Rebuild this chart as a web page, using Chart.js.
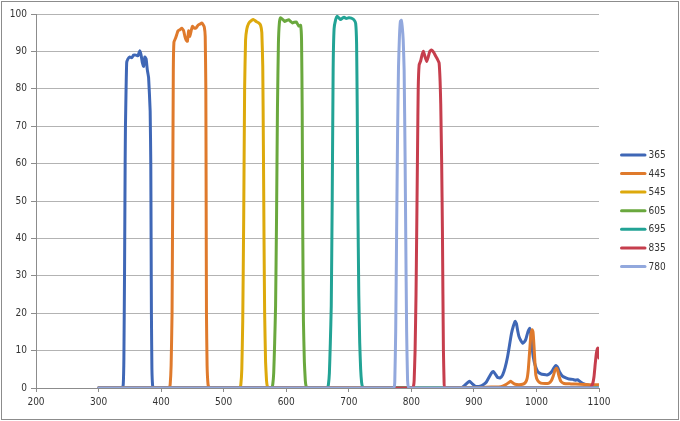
<!DOCTYPE html>
<html>
<head>
<meta charset="utf-8">
<script src="https://cdn.jsdelivr.net/npm/chart.js@4.4.1/dist/chart.umd.min.js"></script>
<style>
  html, body { margin: 0; padding: 0; background: #fff; }
  #frame {
    position: absolute; left: 1px; top: 1px;
    width: 678px; height: 419px;
    box-sizing: border-box; border: 1px solid #8c8c8c; background: #fff;
  }
  #box { position: relative; width: 676px; height: 417px; }
</style>
</head>
<body>
<div id="frame"><div id="box"><canvas id="filters"></canvas></div></div>
<script>
const seriesLabels = ["365", "445", "545", "605", "695", "835", "780"];
const seriesColors = ["#3F67B6", "#DF7A2C", "#DDA90C", "#6AA83E", "#22A395", "#C63E4D", "#92A8DD"];
const xTicks = [200, 300, 400, 500, 600, 700, 800, 900, 1000, 1100];
const yTicks = [0, 10, 20, 30, 40, 50, 60, 70, 80, 90, 100];

const f365 = [
    {x: 300, y: 0}, {x: 338, y: 0}, {x: 339.5, y: 1}, {x: 340.5, y: 8}, {x: 341.5, y: 30},
    {x: 342.5, y: 60}, {x: 343, y: 70}, {x: 344, y: 80}, {x: 345, y: 87}, {x: 347, y: 88},
    {x: 350, y: 88.5}, {x: 353, y: 88.3}, {x: 356, y: 89}, {x: 360, y: 89}, {x: 363, y: 88.8},
    {x: 366, y: 90.2}, {x: 368, y: 89}, {x: 370, y: 87}, {x: 372, y: 86}, {x: 374, y: 88.5},
    {x: 376, y: 88}, {x: 378, y: 85}, {x: 380, y: 83}, {x: 382.5, y: 74}, {x: 383.5, y: 60},
    {x: 384, y: 40}, {x: 384.5, y: 20}, {x: 385.3, y: 5}, {x: 386.5, y: 0.5}, {x: 388, y: 0},
    {x: 880, y: 0}, {x: 884, y: 0.5}, {x: 889, y: 1.3}, {x: 893, y: 1.8}, {x: 897, y: 1.2},
    {x: 902, y: 0.5}, {x: 910, y: 0.5}, {x: 916, y: 1}, {x: 920, y: 1.6}, {x: 924, y: 2.8},
    {x: 928, y: 4}, {x: 931, y: 4.4}, {x: 934, y: 3.8}, {x: 938, y: 2.8}, {x: 942, y: 2.7},
    {x: 946, y: 3.5}, {x: 950, y: 5.5}, {x: 954, y: 8.5}, {x: 957, y: 11.5}, {x: 960, y: 14.5},
    {x: 963, y: 16.5}, {x: 966, y: 17.8}, {x: 968, y: 17.2}, {x: 970, y: 15.3}, {x: 972, y: 13.8},
    {x: 975, y: 12.7}, {x: 978, y: 12}, {x: 980, y: 12.2}, {x: 983, y: 13}, {x: 986, y: 14.8},
    {x: 989, y: 16}, {x: 991, y: 14.5}, {x: 993, y: 11}, {x: 995, y: 8.2}, {x: 998, y: 6},
    {x: 1002, y: 4.4}, {x: 1007, y: 3.8}, {x: 1012, y: 3.6}, {x: 1017, y: 3.5}, {x: 1021, y: 3.8},
    {x: 1025, y: 4.5}, {x: 1028, y: 5.4}, {x: 1031, y: 6}, {x: 1034, y: 5.5}, {x: 1037, y: 4.3},
    {x: 1042, y: 3.1}, {x: 1047, y: 2.7}, {x: 1052, y: 2.4}, {x: 1058, y: 2.3}, {x: 1062, y: 2.1},
    {x: 1066, y: 2.2}, {x: 1070, y: 1.7}, {x: 1076, y: 1.1}, {x: 1082, y: 0.8}, {x: 1088, y: 0.6},
    {x: 1094, y: 0.5}, {x: 1100, y: 0.5},
];
const f445 = [
    {x: 300, y: 0}, {x: 413, y: 0}, {x: 414.5, y: 1}, {x: 416, y: 6}, {x: 417.5, y: 20},
    {x: 418.5, y: 50}, {x: 419.5, y: 85}, {x: 420.5, y: 92.5}, {x: 423, y: 93.5}, {x: 425, y: 94.5},
    {x: 427, y: 95.5}, {x: 430, y: 95.8}, {x: 433, y: 96.2}, {x: 436, y: 95.5}, {x: 438, y: 94},
    {x: 440, y: 93}, {x: 442, y: 92.7}, {x: 444, y: 95.5}, {x: 446, y: 94}, {x: 448, y: 95.5},
    {x: 450, y: 96.7}, {x: 453, y: 96.2}, {x: 456, y: 96.3}, {x: 459, y: 97}, {x: 462, y: 97.3},
    {x: 465, y: 97.6}, {x: 467, y: 97.2}, {x: 469, y: 96.5}, {x: 470.5, y: 94}, {x: 471.5, y: 80},
    {x: 472, y: 50}, {x: 472.5, y: 20}, {x: 473.5, y: 6}, {x: 475, y: 1}, {x: 477, y: 0},
    {x: 900, y: 0}, {x: 920, y: 0.2}, {x: 940, y: 0.3}, {x: 946, y: 0.5}, {x: 952, y: 1},
    {x: 956, y: 1.5}, {x: 959, y: 1.8}, {x: 962, y: 1.4}, {x: 966, y: 1}, {x: 972, y: 0.9},
    {x: 978, y: 1}, {x: 982, y: 1.4}, {x: 985, y: 2.5}, {x: 987, y: 5}, {x: 989, y: 9.5},
    {x: 991, y: 14}, {x: 993, y: 15.6}, {x: 994.5, y: 15}, {x: 996, y: 11.5}, {x: 997.5, y: 7},
    {x: 999, y: 3.5}, {x: 1002, y: 2}, {x: 1007, y: 1.3}, {x: 1014, y: 1.2}, {x: 1020, y: 1.3},
    {x: 1024, y: 2}, {x: 1027, y: 3.3}, {x: 1030, y: 4.9}, {x: 1032, y: 5.3}, {x: 1034, y: 4.6},
    {x: 1036, y: 3.2}, {x: 1039, y: 1.8}, {x: 1044, y: 1.2}, {x: 1055, y: 1.1}, {x: 1070, y: 1},
    {x: 1085, y: 0.9}, {x: 1100, y: 0.9},
];
const f545 = [
    {x: 300, y: 0}, {x: 526, y: 0}, {x: 527.5, y: 1}, {x: 529, y: 5}, {x: 530.5, y: 18},
    {x: 532, y: 45}, {x: 533.5, y: 80}, {x: 535, y: 93}, {x: 537, y: 96}, {x: 540, y: 97.5},
    {x: 544, y: 98.2}, {x: 548, y: 98.5}, {x: 552, y: 98}, {x: 556, y: 97.6}, {x: 559, y: 97},
    {x: 561, y: 95}, {x: 562.5, y: 86}, {x: 563.5, y: 65}, {x: 564.5, y: 40}, {x: 565.5, y: 20},
    {x: 567, y: 7}, {x: 568.5, y: 2}, {x: 570, y: 0.3}, {x: 572, y: 0}, {x: 1100, y: 0},
];
const f605 = [
    {x: 300, y: 0}, {x: 577, y: 0}, {x: 578.5, y: 1}, {x: 580, y: 4}, {x: 581.5, y: 12},
    {x: 583, y: 22}, {x: 584.5, y: 45}, {x: 586, y: 75}, {x: 587.5, y: 92}, {x: 589, y: 97.5},
    {x: 591, y: 99}, {x: 594, y: 98.6}, {x: 597.5, y: 98}, {x: 601, y: 98.3}, {x: 604, y: 98.5},
    {x: 607, y: 98}, {x: 610, y: 97.6}, {x: 613, y: 97.8}, {x: 616, y: 97.9}, {x: 620, y: 96.8},
    {x: 623, y: 97}, {x: 624.5, y: 93}, {x: 625.5, y: 75}, {x: 626.5, y: 40}, {x: 627.5, y: 18},
    {x: 629, y: 7}, {x: 630.5, y: 2}, {x: 632, y: 0.3}, {x: 634, y: 0}, {x: 1100, y: 0},
];
const f695 = [
    {x: 300, y: 0}, {x: 666, y: 0}, {x: 667.5, y: 1}, {x: 669, y: 4}, {x: 670.5, y: 12},
    {x: 672, y: 22}, {x: 673.5, y: 50}, {x: 675, y: 85}, {x: 676.5, y: 96}, {x: 679, y: 98.5},
    {x: 681.5, y: 99.4}, {x: 684, y: 99}, {x: 687, y: 98.5}, {x: 690, y: 98.9}, {x: 692.5, y: 99.1},
    {x: 696, y: 98.8}, {x: 700, y: 99}, {x: 704, y: 98.9}, {x: 708, y: 98.5}, {x: 711, y: 97.5},
    {x: 712.5, y: 92}, {x: 713.5, y: 75}, {x: 714.5, y: 50}, {x: 716, y: 25}, {x: 717.5, y: 12},
    {x: 719, y: 5}, {x: 720.5, y: 1.5}, {x: 722, y: 0.3}, {x: 724, y: 0}, {x: 1100, y: 0},
];
const f835 = [
    {x: 300, y: 0}, {x: 802, y: 0}, {x: 803.5, y: 0.5}, {x: 804.5, y: 2}, {x: 806, y: 10},
    {x: 807.5, y: 25}, {x: 808.6, y: 42}, {x: 810, y: 65}, {x: 811, y: 80}, {x: 812.5, y: 86.4},
    {x: 815, y: 87.5}, {x: 817, y: 89}, {x: 819.3, y: 90}, {x: 822, y: 88.5}, {x: 824.6, y: 87.3},
    {x: 827, y: 88.5}, {x: 829.5, y: 90}, {x: 832, y: 90.4}, {x: 835.5, y: 89.8}, {x: 839, y: 88.7},
    {x: 842, y: 87.8}, {x: 844.4, y: 86.9}, {x: 846, y: 82}, {x: 847, y: 76}, {x: 848.5, y: 60},
    {x: 849.7, y: 42}, {x: 850.5, y: 25}, {x: 851.3, y: 10}, {x: 852.3, y: 2}, {x: 853.5, y: 0},
    {x: 1086, y: 0}, {x: 1088, y: 0.5}, {x: 1090, y: 1.2}, {x: 1092, y: 3}, {x: 1094, y: 6.5},
    {x: 1096, y: 9.5}, {x: 1098, y: 10.7}, {x: 1099, y: 10}, {x: 1100, y: 8},
];
const f780 = [
    {x: 300, y: 0}, {x: 772, y: 0}, {x: 773.5, y: 1.5}, {x: 775, y: 15}, {x: 776.5, y: 42},
    {x: 778, y: 68}, {x: 779.5, y: 86}, {x: 781, y: 94}, {x: 782.5, y: 98}, {x: 784, y: 98.3},
    {x: 785.5, y: 96.5}, {x: 787, y: 93}, {x: 788.5, y: 85}, {x: 790, y: 62}, {x: 791, y: 42},
    {x: 792.5, y: 15}, {x: 794, y: 2}, {x: 796, y: 0}, {x: 1100, y: 0},
];
const seriesData = [f365, f445, f545, f605, f695, f835, f780];

// legend drawn at the right, Excel style (line sample + label)
const sideLegend = {
    id: "sideLegend",
    afterDraw(chart) {
        const {ctx, chartArea} = chart;
        const x0 = chartArea.right + 22.5;
        const step = 18.6;
        const mid = (chartArea.top + chartArea.bottom) / 2 + 9.7;
        const n = chart.data.datasets.length;
        ctx.save();
        ctx.font = "10px 'DejaVu Sans Condensed', 'DejaVu Sans', sans-serif";
        ctx.textBaseline = "middle";
        ctx.textAlign = "left";
        chart.data.datasets.forEach((ds, i) => {
            const y = mid + (i - (n - 1) / 2) * step;
            ctx.strokeStyle = ds.borderColor;
            ctx.lineWidth = 3;
            ctx.lineCap = "round";
            ctx.beginPath();
            ctx.moveTo(x0, y);
            ctx.lineTo(x0 + 23.5, y);
            ctx.stroke();
            ctx.fillStyle = "#333";
            ctx.fillText(ds.label, x0 + 27, y + 0.5);
        });
        ctx.restore();
    }
};

const tickFont = {family: "'DejaVu Sans Condensed', 'DejaVu Sans', sans-serif", size: 10};

const chartFilters = new Chart("filters", {
    type: "scatter",
    data: {
        datasets: seriesLabels.map((label, i) => ({
            label: label,
            data: seriesData[i],
            showLine: true,
            pointRadius: 0,
            borderWidth: 3,
            tension: 0.12,
            borderColor: seriesColors[i],
            backgroundColor: seriesColors[i],
            borderJoinStyle: "round",
            borderCapStyle: "round",
            order: seriesLabels.length - 1 - i,
        }))
    },
    options: {
        responsive: true,
        maintainAspectRatio: false,
        animation: false,
        layout: {padding: {top: 12, right: 79, bottom: 0, left: 0}},
        plugins: {
            legend: {display: false},
            tooltip: {enabled: false},
        },
        scales: {
            x: {
                type: "linear",
                min: xTicks[0],
                max: xTicks[xTicks.length - 1],
                afterBuildTicks: (scale) => { scale.ticks = xTicks.map(v => ({value: v})); },
                afterFit: (scale) => { scale.height = 31; },
                grid: {drawOnChartArea: false, drawTicks: true, tickLength: 4, tickColor: "#8c8c8c"},
                border: {color: "#8c8c8c"},
                ticks: {padding: 4, color: "#333", font: tickFont, callback: (v) => String(v)},
            },
            y: {
                min: yTicks[0],
                max: yTicks[yTicks.length - 1],
                afterBuildTicks: (scale) => { scale.ticks = yTicks.map(v => ({value: v})); },
                afterFit: (scale) => { scale.width = 34; },
                grid: {color: "#b3b3b3", tickLength: 5, tickColor: "#8c8c8c"},
                border: {color: "#8c8c8c"},
                ticks: {padding: 4, color: "#333", font: tickFont, callback: (v) => String(v)},
            },
        },
    },
    plugins: [sideLegend],
});
</script>
</body>
</html>
